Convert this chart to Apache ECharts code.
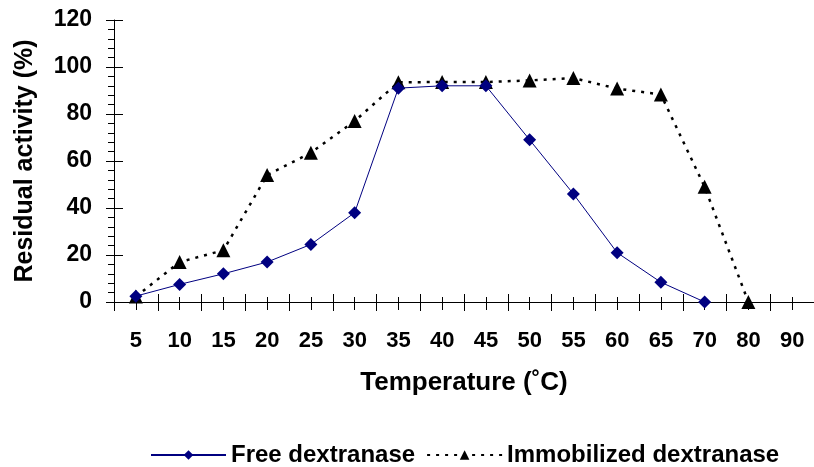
<!DOCTYPE html>
<html>
<head>
<meta charset="utf-8">
<script src="https://cdn.jsdelivr.net/npm/echarts@6/dist/echarts.min.js"></script>
<style>html,body{margin:0;padding:0;background:#fff;}#chart{width:814px;height:467px;}</style>
</head>
<body>
<div id="chart"></div>
<script>
const temperatures = ['5','10','15','20','25','30','35','40','45','50','55','60','65','70','80','90'];
const freeDextranase = [2.5, 7.5, 12, 17, 24.5, 38, 91, 92, 92, 69, 46, 21, 8.4, 0, null, null];
const immobilizedDextranase = [2.3, 17, 22, 54, 63.5, 77, 93.5, 93.6, 93.6, 94.3, 95.3, 90.8, 88.3, 49, 0, null];
const seriesNames = ['Free dextranase', 'Immobilized dextranase'];
const xTitle = 'Temperature (\u02DAC)';
const yTitle = 'Residual activity (%)';

const FONT = '"Liberation Sans", Arial, sans-serif';
const chart = echarts.init(document.getElementById('chart'), null, {renderer: 'canvas'});

function tickAxis(alignWithLabel, inside, length) {
  return {
    type: 'category', data: temperatures, position: 'bottom', gridIndex: 0,
    boundaryGap: true,
    axisLine: {show: false},
    axisLabel: {show: false},
    axisTick: {show: true, alignWithLabel: alignWithLabel, inside: inside, length: length,
               lineStyle: {color: '#000', width: 1}},
    splitLine: {show: false}
  };
}

chart.setOption({
  animation: false,
  backgroundColor: '#fff',
  grid: {left: 114, top: 20, width: 704, height: 282, containLabel: false},
  legend: {
    data: seriesNames,
    left: 150, top: 443, padding: 0,
    itemWidth: 75, itemHeight: 12, itemGap: 11,
    textStyle: {fontFamily: FONT, fontWeight: 'bold', fontSize: 24, color: '#000'}
  },
  xAxis: [
    {
      type: 'category', data: temperatures, position: 'bottom', boundaryGap: true,
      name: xTitle, nameLocation: 'middle', nameGap: 68,
      nameTextStyle: {fontFamily: FONT, fontWeight: 'bold', fontSize: 26, color: '#000'},
      axisLine: {show: true, lineStyle: {color: '#000', width: 1}},
      axisTick: {show: true, alignWithLabel: false, length: 9, lineStyle: {color: '#000'}},
      axisLabel: {show: true, interval: 0, margin: 28, fontFamily: FONT, fontWeight: 'bold', fontSize: 22, color: '#000'},
      splitLine: {show: false}
    },
    tickAxis(false, true, 8),
    tickAxis(true, false, 8),
    tickAxis(true, true, 5)
  ],
  yAxis: [
    {
      type: 'value', min: 0, max: 120, interval: 20,
      name: yTitle, nameLocation: 'middle', nameGap: 76,
      nameTextStyle: {fontFamily: FONT, fontWeight: 'bold', fontSize: 25, color: '#000'},
      axisLine: {show: true, lineStyle: {color: '#000', width: 1}},
      axisTick: {show: true, length: 8, lineStyle: {color: '#000'}},
      minorTick: {show: true, splitNumber: 5, length: 6, lineStyle: {color: '#000'}},
      axisLabel: {margin: 22, fontFamily: FONT, fontWeight: 'bold', fontSize: 23, color: '#000'},
      splitLine: {show: false}
    },
    {
      type: 'value', min: 0, max: 120, interval: 20, position: 'left',
      axisLine: {show: false},
      axisTick: {show: true, inside: true, length: 9, lineStyle: {color: '#000'}},
      axisLabel: {show: false},
      splitLine: {show: false}
    }
  ],
  series: [
    {
      name: seriesNames[0], type: 'line', data: freeDextranase,
      xAxisIndex: 0, yAxisIndex: 0,
      symbol: 'diamond', symbolSize: 13,
      itemStyle: {color: '#000080'},
      lineStyle: {color: '#000080', width: 1},
      connectNulls: false, z: 3
    },
    {
      name: seriesNames[1], type: 'line', data: immobilizedDextranase,
      xAxisIndex: 0, yAxisIndex: 0,
      symbol: 'triangle', symbolSize: 14,
      itemStyle: {color: '#000'},
      lineStyle: {color: '#000', width: 2.5, type: [3, 6]},
      connectNulls: false, z: 2
    }
  ]
});
</script>
</body>
</html>
